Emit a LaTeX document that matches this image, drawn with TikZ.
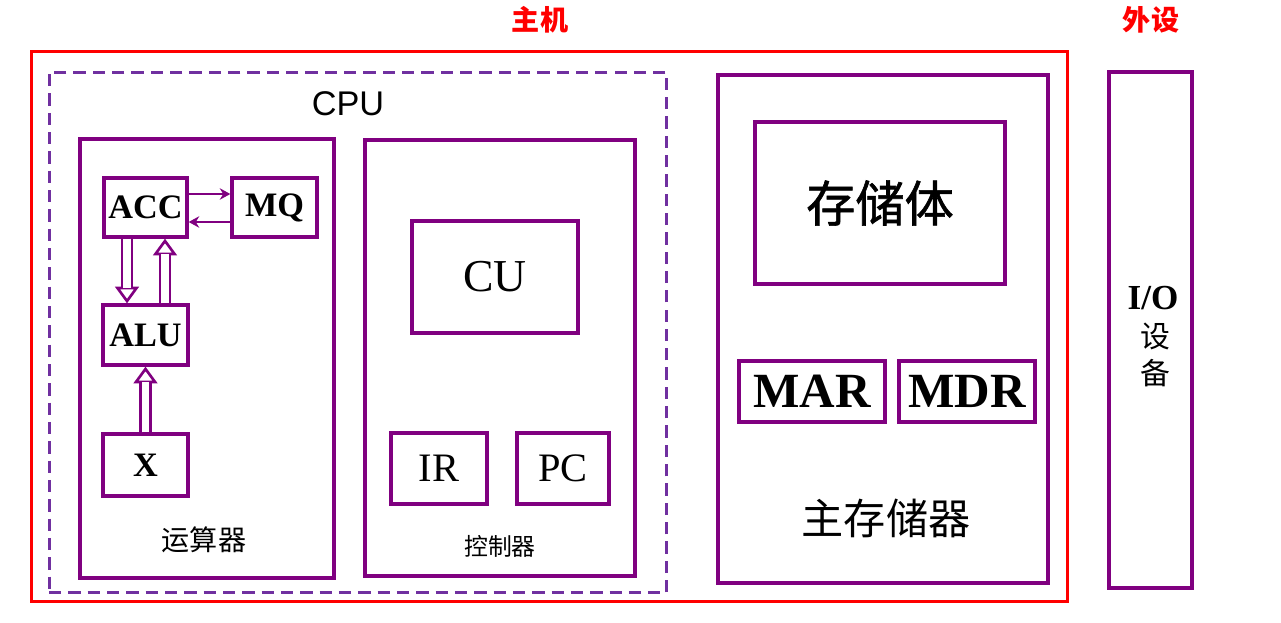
\documentclass[tikz,border=0pt]{standalone}
\usepackage{fontspec}
\setmainfont{Liberation Serif}
\newfontfamily\cjk{Noto Sans CJK SC}
\newfontfamily\cjkheavy[FakeBold=1.2]{Noto Sans CJK SC}
\newfontfamily\cpufont{Liberation Sans}
\usetikzlibrary{arrows.meta}
\definecolor{boxpurple}{HTML}{800080}
\definecolor{cpupurple}{HTML}{7030A0}
\tikzset{
  frame/.style={draw=boxpurple, line width=1.9pt, inner sep=0pt},
  reg/.style={draw=boxpurple, line width=1.9pt, fill=white, inner sep=0pt,
    font=\bfseries\fontsize{19.5}{20}\selectfont},
  thinarr/.style={draw=boxpurple, line width=1.1pt, -{Stealth[length=6pt,width=6.5pt]}},
  dblhead/.style={draw=boxpurple, line width=1.5pt, -{Triangle[length=9.5pt,width=13.5pt,fill=white]}},
  dblshaft/.style={draw=boxpurple, line width=1.5pt, double=white, double distance=4pt, shorten >=8.5pt},
}
\begin{document}
\begin{tikzpicture}[x=0.02cm,y=-0.02cm]
        \useasboundingbox (0,0) rectangle (1281,622);
        % frames
        \node[frame, draw=red, line width=1.7pt, minimum width=20.74cm, minimum height=11.02cm] (host) at (549.5,326.5) {};
        \node[frame, draw=cpupurple, line width=1.7pt, dash pattern=on 7pt off 4pt, minimum width=12.36cm, minimum height=10.42cm] (cpu) at (358,332.5) {};
        \node[frame, minimum width=5.08cm, minimum height=8.78cm] (arith) at (207,358.5) {};
        \node[frame, minimum width=5.4cm, minimum height=8.72cm] (ctrl) at (500,358) {};
        \node[frame, line width=2.3pt, minimum width=6.6cm, minimum height=10.16cm] (mem) at (883,329) {};
        \node[frame, line width=2.3pt, minimum width=1.66cm, minimum height=10.32cm] (io) at (1150.5,330) {};
        % titles
        \node[text=red, font=\cjk\bfseries\fontsize{16}{16}\selectfont] (hostlabel) at (540,20) {主机};
        \node[text=red, font=\cjk\bfseries\fontsize{16}{16}\selectfont] (extlabel) at (1151,20) {外设};
        \node[font=\cpufont\fontsize{19.5}{20}\selectfont] (cpulabel) at (348,104) {CPU};
        % arithmetic unit
        \node[reg, minimum width=1.66cm, minimum height=1.18cm] (acc) at (145.5,207.5) {ACC};
        \node[reg, minimum width=1.7cm, minimum height=1.18cm] (mq) at (274.5,207.5) {MQ};
        \node[reg, minimum width=1.7cm, minimum height=1.2cm] (alu) at (145.5,335) {ALU};
        \node[reg, minimum width=1.7cm, minimum height=1.24cm] (xreg) at (145.5,465) {X};
        \draw[thinarr] ([yshift=.27cm]acc.east) -- ([yshift=.27cm]mq.west);
        \draw[thinarr] ([yshift=-.29cm]mq.west) -- ([yshift=-.29cm]acc.east);
        % hollow arrows: head first, shaft on top
        \draw[dblhead] ([xshift=-.37cm]acc.south) -- ([xshift=-.37cm]alu.north);
        \draw[dblshaft] ([xshift=-.37cm]acc.south) -- ([xshift=-.37cm]alu.north);
        \draw[dblhead] ([xshift=.39cm]alu.north) -- ([xshift=.39cm]acc.south);
        \draw[dblshaft] ([xshift=.39cm]alu.north) -- ([xshift=.39cm]acc.south);
        \draw[dblhead] (xreg.north) -- (alu.south);
        \draw[dblshaft] (xreg.north) -- (alu.south);
        \node[font=\cjk\fontsize{16}{16}\selectfont] (arithlabel) at (204,540) {运算器};
        % control unit
        \node[reg, font=\fontsize{26}{26}\selectfont, minimum width=3.32cm, minimum height=2.24cm] (cu) at (495,277) {CU};
        \node[reg, font=\fontsize{23}{23}\selectfont, minimum width=1.92cm, minimum height=1.42cm] (ir) at (439,468.5) {IR};
        \node[reg, font=\fontsize{23}{23}\selectfont, minimum width=1.84cm, minimum height=1.42cm] (pc) at (563,468.5) {PC};
        \node[font=\cjk\fontsize{13.6}{14}\selectfont] (ctrllabel) at (500,546) {控制器};
        % main memory
        \node[reg, line width=2.3pt, font=\cjkheavy\fontsize{28}{28}\selectfont, minimum width=5cm, minimum height=3.24cm] (bank) at (880,203) {存储体};
        \node[reg, line width=2.3pt, font=\bfseries\fontsize{28}{28}\selectfont, minimum width=2.92cm, minimum height=1.22cm] (mar) at (812,391.5) {MAR};
        \node[reg, line width=2.3pt, font=\bfseries\fontsize{28}{28}\selectfont, minimum width=2.72cm, minimum height=1.22cm] (mdr) at (967,391.5) {MDR};
        \node[font=\cjk\fontsize{24}{24}\selectfont] (memlabel) at (886,518) {主存储器};
        % io
        \node[font=\bfseries\fontsize{20}{20}\selectfont] (iolabel) at (1153,298) {I/O};
        \node[font=\cjk\fontsize{17}{17}\selectfont] (iochar1) at (1155,336) {设};
        \node[font=\cjk\fontsize{17}{17}\selectfont] (iochar2) at (1155,373) {备};
\end{tikzpicture}
\end{document}
